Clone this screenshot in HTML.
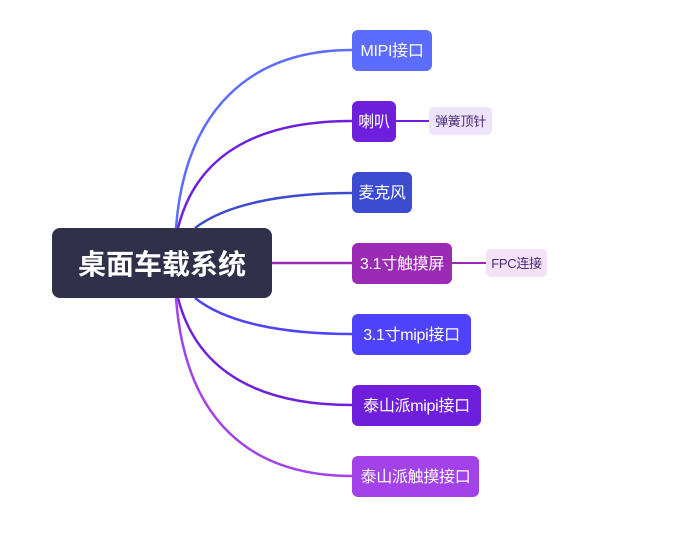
<!DOCTYPE html>
<html><head><meta charset="utf-8"><style>
body{margin:0;width:690px;height:535px;background:#fff;position:relative;font-family:"Liberation Sans","Noto Sans CJK SC",sans-serif;overflow:hidden}
.n{position:absolute;left:352px;height:41px;border-radius:6px;color:#fff;font-size:16px;line-height:43px;box-sizing:border-box;text-align:center;white-space:nowrap;letter-spacing:-0.3px}
.s{position:absolute;height:28px;border-radius:5px;font-size:13px;line-height:29px;text-align:center;color:#4a2a7a;white-space:nowrap;letter-spacing:-0.3px}
svg{position:absolute;left:0;top:0}
</style></head><body>
<svg width="690" height="535">
<g fill="none" stroke-width="2.5">
<path d="M176,228 C185,110 250,50 352,50" stroke="#5b6cff"/>
<path d="M178,228 C195,160 250,121 352,121" stroke="#6d1fdc"/>
<path d="M195,228 C225,205 280,193 352,193" stroke="#3c4bcf"/>
<path d="M272,263 L352,263" stroke="#9b2bb5"/>
<path d="M195,298 C225,322 280,334 352,334" stroke="#4f42fb"/>
<path d="M178,298 C195,365 250,405 352,405" stroke="#6d1fdc"/>
<path d="M176,298 C185,420 250,476 352,476" stroke="#a242e8"/>
<path d="M396,121 L429,121" stroke="#6d1fdc" stroke-width="2"/>
<path d="M452,263 L486,263" stroke="#9b2bb5" stroke-width="2"/>
</g></svg>
<div style="position:absolute;left:52px;top:228px;width:220px;height:70px;background:#30304a;border-radius:8px;color:#fff;font-size:28px;font-weight:bold;line-height:74px;text-align:center;white-space:nowrap">桌面车载系统</div>
<div class="n" style="top:30px;width:80px;background:#5b6cff">MIPI接口</div>
<div class="n" style="top:101px;width:44px;background:#6d1fdc">喇叭</div>
<div class="n" style="top:172px;width:60px;background:#3c4bcf">麦克风</div>
<div class="n" style="top:243px;width:100px;background:#9b2bb5">3.1寸触摸屏</div>
<div class="n" style="top:314px;width:119px;background:#4f42fb">3.1寸mipi接口</div>
<div class="n" style="top:385px;width:129px;background:#6f1fdc">泰山派mipi接口</div>
<div class="n" style="top:456px;width:127px;background:#a242e8">泰山派触摸接口</div>
<div class="s" style="left:429px;top:107px;width:63px;background:#ede3fb">弹簧顶针</div>
<div class="s" style="left:486px;top:249px;width:61px;background:#f3e2f5">FPC连接</div>
</body></html>
